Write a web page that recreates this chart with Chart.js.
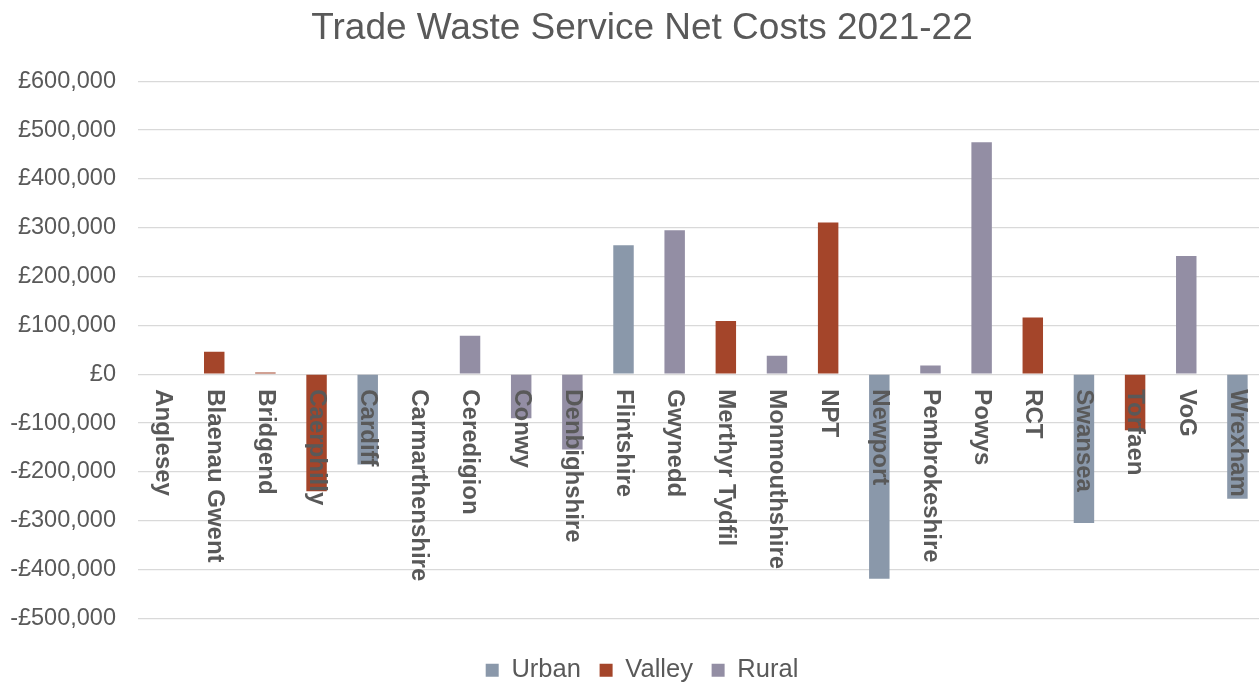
<!DOCTYPE html>
<html>
<head>
<meta charset="utf-8">
<script src="https://cdn.jsdelivr.net/npm/chart.js@4.4.1/dist/chart.umd.min.js"></script>
<style>
  html, body { margin: 0; padding: 0; background: #ffffff; overflow: hidden; }
  #wrap { width: 1284px; height: 693px; }
</style>
</head>
<body>
<div id="wrap"><canvas id="c" width="1284" height="693"></canvas></div>
<script>
const categories = ["Anglesey","Blaenau Gwent","Bridgend","Caerphilly","Cardiff","Carmarthenshire","Ceredigion","Conwy","Denbighshire","Flintshire","Gwynedd","Merthyr Tydfil","Monmouthshire","NPT","Newport","Pembrokeshire","Powys","RCT","Swansea","Torfaen","VoG","Wrexham"];
const urbanValues  = [null,null,null,null,-185000,null,null,null,null,264000,null,null,null,null,-419000,null,null,null,-305000,null,null,-255000];
const valleyValues = [null,46000,3500,-240000,null,null,null,null,null,null,null,109000,null,311000,null,null,null,116000,null,-115000,null,null];
const ruralValues  = [null,null,null,null,null,null,79000,-90000,-154000,null,295000,null,38000,null,null,18000,475000,null,null,null,242000,null];
const seriesNames = ["Urban","Valley","Rural"];
const seriesColors = ["#8A98AA","#A4452A","#938EA4"];
const yTickMin = -500000, yTickMax = 600000, yTickStep = 100000;
const chartTitle = "Trade Waste Service Net Costs 2021-22";

const FONT = '"Liberation Sans", Arial, Helvetica, sans-serif';
Chart.defaults.font.family = FONT;
Chart.defaults.color = '#595959';

const fmt = v => {
  const s = '£' + Math.abs(v).toLocaleString('en-GB');
  return v < 0 ? '-' + s : s;
};

const categoryLabels = {
  id: 'categoryLabels',
  afterDatasetsDraw(chart) {
    const ctx = chart.ctx, xs = chart.scales.x, ys = chart.scales.y;
    const y0 = ys.getPixelForValue(0);
    ctx.save();
    ctx.font = 'bold 24px ' + FONT;
    ctx.fillStyle = '#595959';
    ctx.textAlign = 'left';
    ctx.textBaseline = 'middle';
    categories.forEach((c, i) => {
      const px = xs.getPixelForValue(i);
      ctx.save();
      ctx.translate(px, y0 + 15);
      ctx.rotate(Math.PI / 2);
      ctx.fillText(c, 0, 0);
      ctx.restore();
    });
    ctx.restore();
  }
};

const datasets = [urbanValues, valleyValues, ruralValues].map((vals, i) => ({
  label: seriesNames[i],
  data: vals,
  backgroundColor: seriesColors[i],
  borderWidth: 0,
  categoryPercentage: 1.0,
  barPercentage: 0.4
}));

new Chart(document.getElementById('c'), {
  type: 'bar',
  data: { labels: categories, datasets },
  plugins: [categoryLabels],
  options: {
    responsive: false,
    animation: false,
    devicePixelRatio: 1,
    layout: { padding: 0 },
    plugins: {
      title: {
        display: true,
        text: chartTitle,
        color: '#595959',
        font: { size: 37, weight: 'normal', family: FONT },
        padding: { top: 6.8, bottom: 30.1 }
      },
      legend: {
        display: true,
        position: 'bottom',
        labels: {
          color: '#595959',
          font: { size: 25.5, family: FONT },
          boxWidth: 13,
          boxHeight: 13,
          padding: 18.7
        }
      },
      tooltip: { enabled: false }
    },
    scales: {
      x: {
        stacked: true,
        grid: { display: false },
        border: { display: false },
        ticks: { display: false },
        afterFit(s) { s.height = 20.5; }
      },
      y: {
        stacked: true,
        min: yTickMin,
        max: yTickMax,
        afterFit(s) { s.width = 137.5; },
        border: { display: false },
        grid: { color: '#D9D9D9', lineWidth: 1.3, drawTicks: false },
        ticks: {
          stepSize: yTickStep,
          padding: 21.5,
          color: '#595959',
          font: { size: 23.5, family: FONT },
          callback: v => fmt(v)
        }
      },
      yRightSpace: {
        position: 'right',
        display: true,
        grid: { display: false },
        border: { display: false },
        ticks: { display: false },
        afterFit(s) { s.width = 21; }
      }
    }
  }
});
</script>
</body>
</html>
